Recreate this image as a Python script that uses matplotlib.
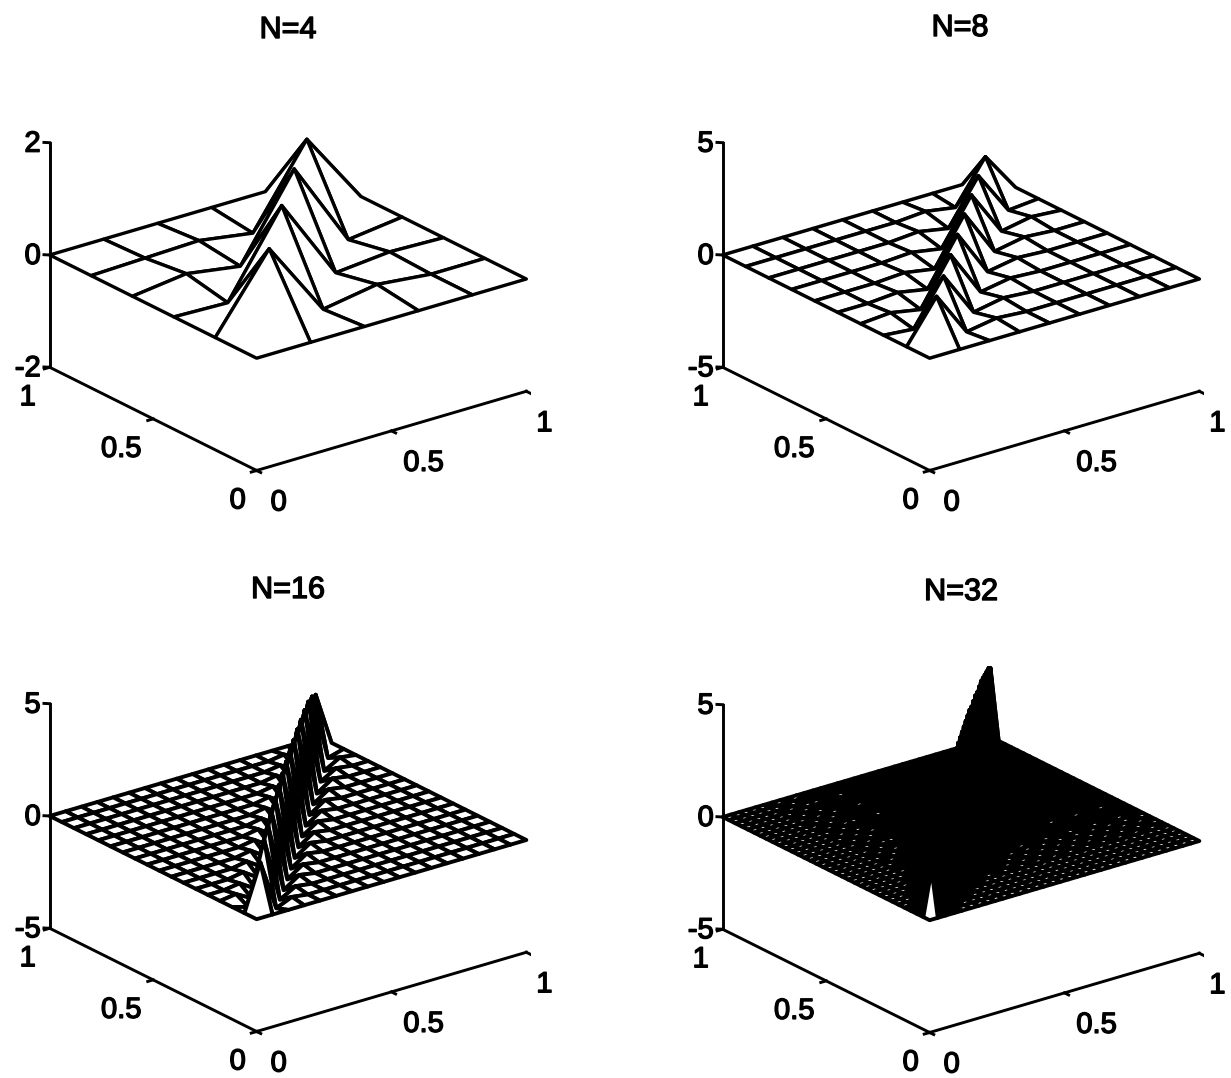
import numpy as np
import matplotlib
matplotlib.use('Agg')
import matplotlib.pyplot as plt
import matplotlib.patheffects as pe
from mpl_toolkits.mplot3d import proj3d

titles = ['N=4', 'N=8', 'N=16', 'N=32']
grid_sizes = [4, 8, 16, 32]
z_limits = [2, 5, 5, 5]

# N=4 read node by node, rows are y, columns are x (boundary is zero)
z_n4 = [
    [0, 0, 0, 0, 0, 0],
    [0, 1.30, -0.06, 0.10, 0.00, 0],
    [0, -0.03, 1.42, -0.06, 0.03, 0],
    [0, 0.12, -0.03, 1.42, -0.12, 0],
    [0, 0.03, 0.06, -0.09, 1.30, 0],
    [0, 0, 0, 0, 0, 0],
]

# the others read as a ridge on the diagonal plus the first bands next to it
diag_n8 = [1.85, 1.85, 1.9, 1.9, 1.9, 1.85, 1.8, 1.75]
near1_n8 = [-0.12, -0.15, -0.15, -0.15, -0.15, -0.15, -0.12]
near2_n8 = [0.10, 0.10, 0.08, 0.08, 0.10, 0.10]

diag_n16 = [2.05, 2.6, 2.8, 2.9, 3.0, 3.1, 3.15, 3.2, 3.2, 3.2, 3.2, 3.15, 3.1, 3.0, 2.75, 2.35]
near1_n16 = [-0.2, -0.3, -0.35, -0.35, -0.35, -0.35, -0.35, -0.35, -0.35, -0.35,
             -0.35, -0.35, -0.3, -0.3, -0.2]
near2_n16 = [0.1, 0.1, 0.12, 0.12, 0.12, 0.12, 0.12, 0.12, 0.12, 0.12, 0.12, 0.12, 0.1, 0.1]

diag_n32 = [2.0, 2.8, 3.3, 3.6, 3.8, 3.9, 4.0, 4.1, 4.1, 4.2, 4.2, 4.2, 4.2, 4.2, 4.2, 4.2,
            4.2, 4.2, 4.2, 4.2, 4.2, 4.1, 4.1, 4.1, 4.0, 4.0, 4.0, 3.9, 3.8, 3.7, 3.6, 3.35]
near1_n32 = [-0.05, -0.2, -0.3, -0.4, -0.45, -0.5, -0.5, -0.5, -0.5, -0.5, -0.5, -0.5, -0.5,
             -0.5, -0.5, -0.5, -0.5, -0.5, -0.5, -0.5, -0.5, -0.5, -0.5, -0.5, -0.5, -0.45,
             -0.45, -0.45, -0.4, -0.4, -0.4]

# pixel centre of the plot box and of the title in each panel
box_centres = [(288, 267), (961, 267), (288, 828), (961, 829)]
title_centres = [(288, 30), (960, 28), (288, 590), (961, 592)]
line_widths = [2.4, 2.5, 2.8, 2.8]

FIG_W, FIG_H = 1231, 1078
AX_SIZE = 500
LW = 2.1


def band_matrix(diag, *bands):
    n = len(diag) + 2
    z = np.zeros((n, n))
    z[1:-1, 1:-1] = np.diag(diag)
    for k, band in enumerate(bands, start=1):
        z[1:-1, 1:-1] += np.diag(band, k) + np.diag(band, -k)
    return z


def dense_faces(n_cells):
    # the N=32 mesh prints almost solid, cells near the two front edges stay open
    # and get sparser going inward
    faces = np.empty((n_cells, n_cells), dtype=object)
    for j in range(n_cells):
        for i in range(n_cells):
            depth = min(i, j)
            if i + j <= 1:
                is_open = True
            elif abs(i - j) <= 3 + depth // 2:
                is_open = False
            elif depth < 5:
                is_open = True
            elif depth < 9:
                is_open = (i + j) % 2 == 0
            elif depth < 14:
                is_open = i % 3 == 0 and j % 3 == 0
            else:
                is_open = False
            faces[j, i] = 'white' if is_open else 'black'
    return faces


def thick_text(artist):
    artist.set_path_effects([pe.withStroke(linewidth=1.0, foreground='black')])


def tick_label(ax, x, y, z, text, dx, dy, ha='center'):
    px, py, _ = proj3d.proj_transform(x, y, z, ax.get_proj())
    t = ax.annotate(text, (px, py), xytext=(dx, dy), textcoords='offset pixels',
                    ha=ha, va='center', fontsize=21, annotation_clip=False)
    thick_text(t)


def draw_axes(ax, zmax):
    zmin = -zmax
    ax.plot([0, 0], [1, 1], [zmin, zmax], 'k', lw=LW)
    ax.plot([0, 0], [1, 0], [zmin, zmin], 'k', lw=LW)
    ax.plot([0, 1], [0, 0], [zmin, zmin], 'k', lw=LW)
    for v in [0, 0.5, 1]:
        ax.plot([v, v], [0, -0.02], [zmin, zmin], 'k', lw=LW)
        ax.plot([0, -0.02], [v, v], [zmin, zmin], 'k', lw=LW)
    for v in [zmin, 0, zmax]:
        ax.plot([0, -0.012], [1, 1.012], [v, v], 'k', lw=LW)

    for v, label, dx in zip([0, 0.5, 1], ['0', '0.5', '1'], [22, 32, 18]):
        tick_label(ax, v, 0, zmin, label, dx, -32)
    for v, label, dx in zip([0, 0.5, 1], ['0', '0.5', '1'], [-19, -32, -22]):
        tick_label(ax, 0, v, zmin, label, dx, -30)
    for v, label in zip([zmin, 0, zmax], [str(zmin), '0', str(zmax)]):
        tick_label(ax, 0, 1, v, label, -9, -1, ha='right')


surfaces = [
    np.array(z_n4),
    band_matrix(diag_n8, near1_n8, near2_n8),
    band_matrix(diag_n16, near1_n16, near2_n16),
    band_matrix(diag_n32, near1_n32),
]

plt.rcParams['font.family'] = ['Liberation Sans', 'DejaVu Sans']
fig = plt.figure(figsize=(FIG_W / 100, FIG_H / 100), dpi=100)

for i in range(4):
    cx, cy = box_centres[i]
    left = cx - 0.5135 * AX_SIZE
    bottom = FIG_H - cy - 0.5135 * AX_SIZE
    ax = fig.add_axes([left / FIG_W, bottom / FIG_H, AX_SIZE / FIG_W, AX_SIZE / FIG_H],
                      projection='3d')
    ax.set_proj_type('ortho')
    ax.view_init(elev=22.5, azim=-127.5)
    ax.set_box_aspect((1, 1, 0.715), zoom=1.046)
    ax.set_xlim(0, 1)
    ax.set_ylim(0, 1)
    ax.set_zlim(-z_limits[i], z_limits[i])
    ax.set_axis_off()

    pts = np.linspace(0, 1, grid_sizes[i] + 2)
    X, Y = np.meshgrid(pts, pts)
    style = {'color': 'white'}
    if grid_sizes[i] == 32:
        style = {'facecolors': dense_faces(len(pts) - 1)}
    ax.plot_surface(X, Y, surfaces[i], rstride=1, cstride=1, edgecolor='black',
                    linewidth=line_widths[i], shade=False, **style)
    draw_axes(ax, z_limits[i])

    tx, ty = title_centres[i]
    t = fig.text(tx / FIG_W, 1 - ty / FIG_H, titles[i], ha='center', va='center', fontsize=22)
    thick_text(t)

fig.savefig('out.png', dpi=100)
